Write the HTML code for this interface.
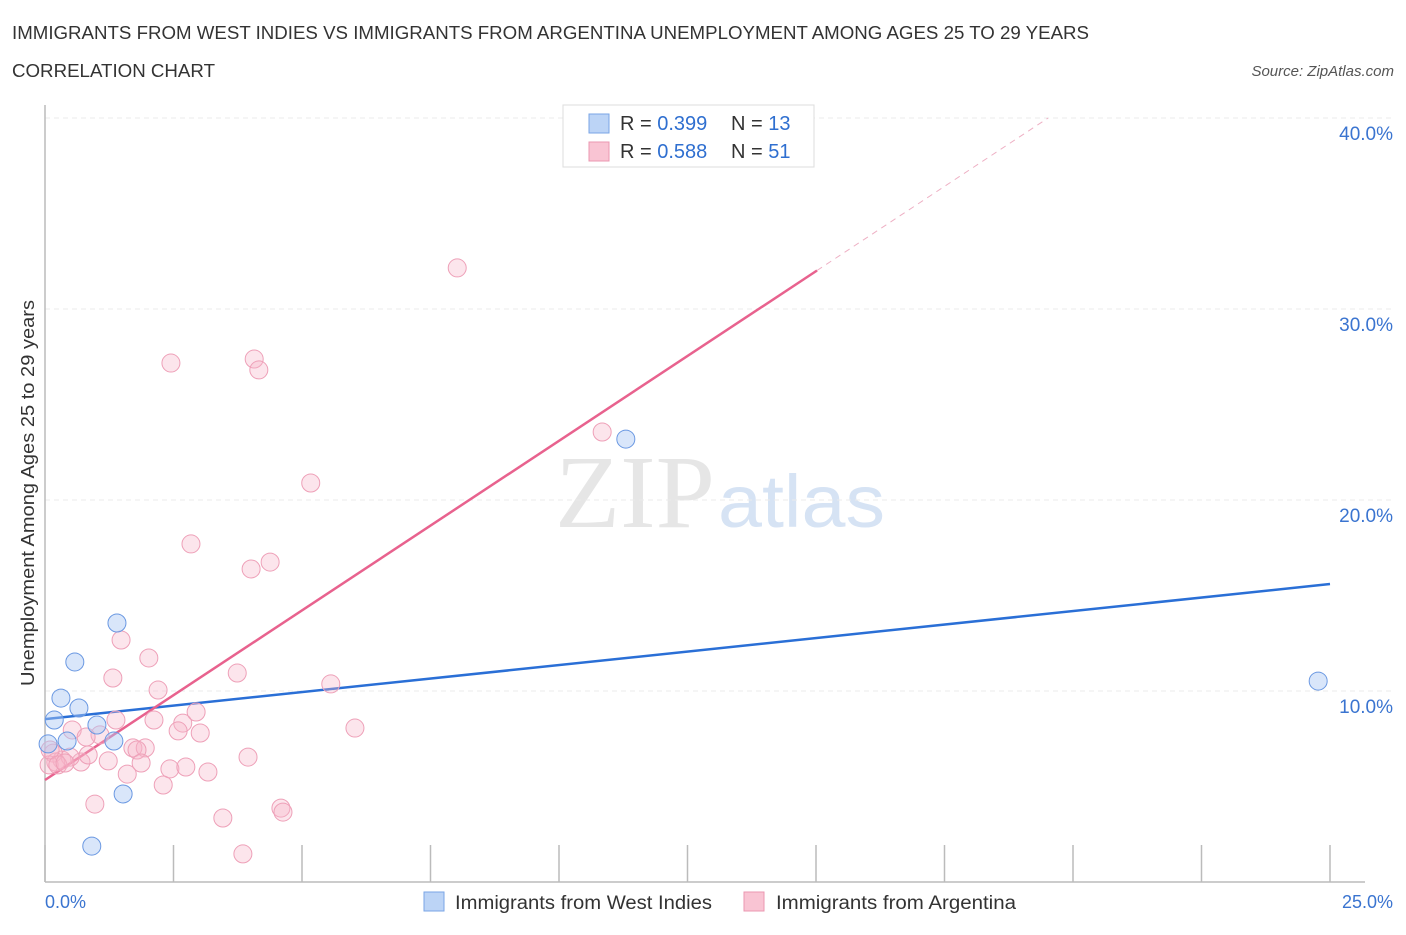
<!DOCTYPE html>
<html><head><meta charset="utf-8"><style>
body{margin:0;background:#fff;font-family:"Liberation Sans",sans-serif;}
</style></head><body>
<svg width="1406" height="930" xmlns="http://www.w3.org/2000/svg" font-family="Liberation Sans, sans-serif">
<text x="12" y="39" font-size="18" fill="#333" textLength="1077" lengthAdjust="spacingAndGlyphs">IMMIGRANTS FROM WEST INDIES VS IMMIGRANTS FROM ARGENTINA UNEMPLOYMENT AMONG AGES 25 TO 29 YEARS</text>
<text x="12" y="77" font-size="18" fill="#333" textLength="203" lengthAdjust="spacingAndGlyphs">CORRELATION CHART</text>
<text x="1394" y="76" font-size="15" fill="#555" font-style="italic" text-anchor="end">Source: ZipAtlas.com</text>
<g>
<text x="555" y="527" font-size="104" fill="#e6e6e6" textLength="160" lengthAdjust="spacingAndGlyphs" font-family="Liberation Serif, serif">ZIP</text>
<text x="718" y="527" font-size="74" fill="#d6e3f4" textLength="167" lengthAdjust="spacingAndGlyphs">atlas</text>
</g>
<g id="grid"></g>
<g id="axes"></g>
<g id="lines"></g>
<g id="points"></g>
<text transform="translate(34,493) rotate(-90)" font-size="18" fill="#333" text-anchor="middle" textLength="386" lengthAdjust="spacingAndGlyphs">Unemployment Among Ages 25 to 29 years</text>
<text x="45" y="908" font-size="18" fill="#3a74d0">0.0%</text>
<text x="1393" y="908" font-size="18" fill="#3a74d0" text-anchor="end">25.0%</text>
<g>
<rect x="563" y="105" width="251" height="62" fill="#fff" stroke="#ddd"/>
<rect x="589" y="114" width="20" height="19" fill="#bcd4f6" stroke="#7aa5e6"/>
<rect x="589" y="142" width="20" height="19" fill="#f9c4d3" stroke="#eb97b0"/>
<text x="620" y="130" font-size="20" fill="#333">R = <tspan fill="#2f6fd0">0.399</tspan></text>
<text x="731" y="130" font-size="20" fill="#333">N = <tspan fill="#2f6fd0">13</tspan></text>
<text x="620" y="158" font-size="20" fill="#333">R = <tspan fill="#2f6fd0">0.588</tspan></text>
<text x="731" y="158" font-size="20" fill="#333">N = <tspan fill="#2f6fd0">51</tspan></text>
</g>
<g>
<rect x="424" y="892" width="20" height="19" fill="#bcd4f6" stroke="#7aa5e6"/>
<text x="455" y="909" font-size="19" fill="#333" textLength="257" lengthAdjust="spacingAndGlyphs">Immigrants from West Indies</text>
<rect x="744" y="892" width="20" height="19" fill="#f9c4d3" stroke="#eb97b0"/>
<text x="776" y="909" font-size="19" fill="#333" textLength="240" lengthAdjust="spacingAndGlyphs">Immigrants from Argentina</text>
</g>
</svg>
<script>
const yTicks=[10,20,30,40];
const yTickLabels=["10.0%","20.0%","30.0%","40.0%"];
const xTicks=[0,2.5,5,7.5,10,12.5,15,17.5,20,22.5,25];
const blueX=[1.40,0.58,0.31,0.66,0.18,1.01,1.34,0.43,0.06,1.52,0.91,11.30,24.77];
const blueY=[13.56,11.52,9.63,9.11,8.48,8.22,7.38,7.38,7.23,4.61,1.88,23.19,10.52];
const pinkX=[8.02,2.45,4.07,4.16,10.84,5.17,2.84,4.01,4.38,1.48,2.02,1.32,2.20,3.74,5.56,2.94,2.68,2.12,1.38,3.02,2.59,6.03,0.53,1.07,0.80,1.71,1.95,1.79,1.23,1.87,0.70,0.33,0.49,0.16,0.21,0.08,1.60,2.43,2.74,3.17,3.95,2.30,0.97,3.46,4.59,4.63,3.85,0.10,0.25,0.39,0.84];
const pinkY=[32.15,27.17,27.38,26.81,23.56,20.89,17.70,16.39,16.75,12.67,11.73,10.68,10.05,10.94,10.37,8.90,8.32,8.48,8.48,7.80,7.91,8.06,7.96,7.70,7.59,7.02,7.02,6.91,6.34,6.23,6.28,6.39,6.54,6.75,6.28,6.13,5.65,5.92,6.02,5.76,6.54,5.08,4.08,3.35,3.87,3.66,1.47,6.91,6.13,6.23,6.65];
const blueTrend=[8.53,15.60];
const pinkTrend=[5.34,1.776];
const pinkSolidEnd=15.02;
const NS="http://www.w3.org/2000/svg";
const xs=v=>45+v/25*1285;
const ys=v=>882-v*19.1;
function mk(t,a,p){const e=document.createElementNS(NS,t);for(const k in a)e.setAttribute(k,a[k]);document.getElementById(p).appendChild(e);return e;}
yTicks.forEach((v,i)=>{
 const l=mk('line',{x1:45,x2:1393,y1:ys(v),y2:ys(v),stroke:'#ebebeb','stroke-dasharray':'5,4'},'grid');
 
 
 const t=mk('text',{x:1393,y:ys(v)+22,'font-size':19,fill:'#3a74d0','text-anchor':'end'},'grid');
 t.textContent=yTickLabels[i];
 
 
});
let a=mk('line',{x1:45,x2:45,y1:105,y2:882,stroke:'#bbb','stroke-width':1.5},'axes');


a=mk('line',{x1:45,x2:1365,y1:882,y2:882,stroke:'#bbb','stroke-width':1.5},'axes');


xTicks.forEach(v=>{
 const t=mk('line',{x1:xs(v),x2:xs(v),y1:845,y2:882,stroke:'#bbb','stroke-width':1.5},'axes');
 
 
});
const drawPts=(X,Y,fill,stroke,name)=>X.forEach((x,i)=>{
 const c=mk('circle',{cx:xs(x),cy:ys(Y[i]),r:9,fill:fill,stroke:stroke,'stroke-width':1},'points');
 
 
});
drawPts(pinkX,pinkY,'rgba(247,180,200,0.35)','#eea0b8','argentina-point');
drawPts(blueX,blueY,'rgba(170,200,245,0.45)','#6a98e2','west-indies-point');
let ln=mk('line',{x1:xs(0),y1:ys(blueTrend[0]),x2:xs(25),y2:ys(blueTrend[1]),stroke:'#2a6fd6','stroke-width':2.5},'lines');


ln=mk('line',{x1:xs(0),y1:ys(pinkTrend[0]),x2:xs(pinkSolidEnd),y2:ys(pinkTrend[0]+pinkTrend[1]*pinkSolidEnd),stroke:'#e8628e','stroke-width':2.5},'lines');


const xe=(40-pinkTrend[0])/pinkTrend[1];
ln=mk('line',{x1:xs(pinkSolidEnd),y1:ys(pinkTrend[0]+pinkTrend[1]*pinkSolidEnd),x2:xs(xe),y2:ys(40),stroke:'#eeb0c4','stroke-width':1,'stroke-dasharray':'6,5'},'lines');


</script>
</body></html>
